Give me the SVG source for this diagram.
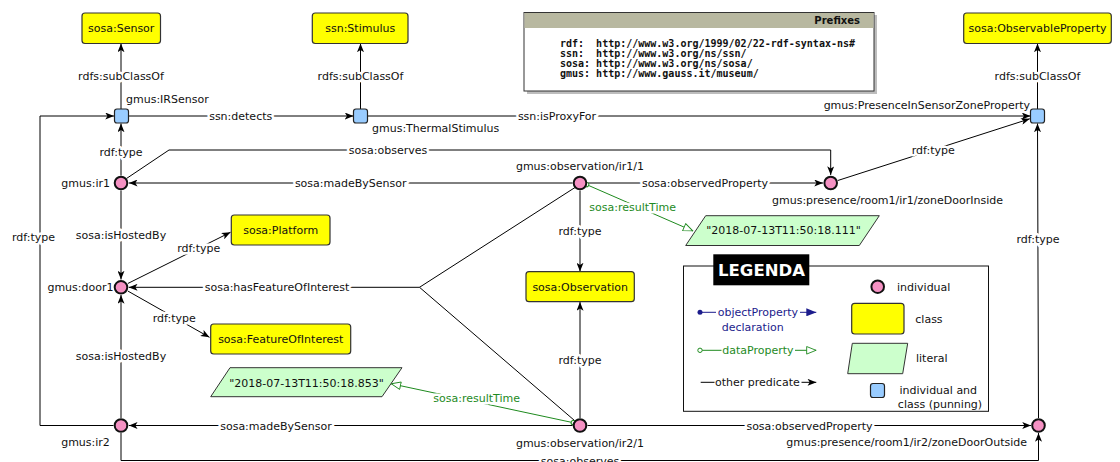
<svg xmlns="http://www.w3.org/2000/svg" width="1120" height="462" viewBox="0 0 1120 462">
  <style>
    text { font-family: "DejaVu Sans", "Liberation Sans", sans-serif; font-size: 11px; fill: #111; }
    .lbl { text-anchor: middle; paint-order: stroke; stroke: #fff; stroke-width: 5px; stroke-linejoin: round; }
    .mid { text-anchor: middle; }
    .end { text-anchor: end; }
    .edge { fill: none; stroke: #000; stroke-width: 1; }
    .data { fill: none; stroke: #1e8a1e; stroke-width: 1; }
    .dlbl { fill: #1e8a1e; }
    .obj { fill: none; stroke: #1c1c8c; stroke-width: 1; }
    .olbl { fill: #1c1c8c; }
    .cls { fill: #ffff00; stroke: #333; stroke-width: 1.2; }
    .ind { fill: #f591c3; stroke: #111; stroke-width: 2; }
    .pun { fill: #99ccff; stroke: #222; stroke-width: 1.2; }
    .lit { fill: #ccffcc; stroke: #333; stroke-width: 1; }
    .mono { font-family: "DejaVu Sans Mono", "Liberation Mono", monospace; font-size: 10px; font-weight: bold; fill: #111; }
  </style>
  <defs>
    <marker id="arr" viewBox="0 0 10 8" refX="10" refY="4" markerWidth="9" markerHeight="7" markerUnits="userSpaceOnUse" orient="auto">
      <path d="M0,0 L10,4 L0,8 L2.5,4 z" fill="#000"/>
    </marker>
    <marker id="openTri" viewBox="0 0 12 10" refX="11.5" refY="5" markerWidth="11" markerHeight="9" markerUnits="userSpaceOnUse" orient="auto">
      <path d="M0.8,0.8 L11.2,5 L0.8,9.2 z" fill="#fff" stroke="#1e8a1e" stroke-width="1"/>
    </marker>
    <marker id="openDot" viewBox="0 0 6 6" refX="3" refY="3" markerWidth="6" markerHeight="6" markerUnits="userSpaceOnUse" orient="auto">
      <circle cx="3" cy="3" r="2.2" fill="#fff" stroke="#1e8a1e" stroke-width="1"/>
    </marker>
    <marker id="navyDot" viewBox="0 0 6 6" refX="3" refY="3" markerWidth="6" markerHeight="6" markerUnits="userSpaceOnUse" orient="auto">
      <circle cx="3" cy="3" r="2.5" fill="#1c1c8c"/>
    </marker>
    <marker id="navyTri" viewBox="0 0 10 8" refX="10" refY="4" markerWidth="10" markerHeight="8" markerUnits="userSpaceOnUse" orient="auto">
      <path d="M0,0 L10,4 L0,8 z" fill="#1c1c8c"/>
    </marker>
  </defs>

  <rect width="1120" height="462" fill="#fff"/>

  <!-- prefix table -->
  <g id="prefixes">
    <rect x="527" y="15" width="350" height="79" fill="#bdbdbd"/>
    <rect x="524" y="12.5" width="350" height="78.5" fill="#fff" stroke="#333" stroke-width="1"/>
    <rect x="524.5" y="13" width="349" height="15" fill="#b8b8a0"/>
    <text x="860" y="23.6" class="end" style="font-weight:bold;font-size:10px">Prefixes</text>
    <text class="mono" x="560" y="46.8" xml:space="preserve">rdf:  http://www.w3.org/1999/02/22-rdf-syntax-ns#</text>
    <text class="mono" x="560" y="57" xml:space="preserve">ssn:  http://www.w3.org/ns/ssn/</text>
    <text class="mono" x="560" y="67.2" xml:space="preserve">sosa: http://www.w3.org/ns/sosa/</text>
    <text class="mono" x="560" y="77.4" xml:space="preserve">gmus: http://www.gauss.it/museum/</text>
  </g>

  <!-- connectors -->
  <g id="connectors">
    <path class="edge" d="M121,109 V43.5" marker-end="url(#arr)"/>
    <text class="lbl" x="121" y="80">rdfs:subClassOf</text>

    <path class="edge" d="M360.5,109 V43.5" marker-end="url(#arr)"/>
    <text class="lbl" x="360.5" y="80">rdfs:subClassOf</text>

    <path class="edge" d="M1037.5,109 V43.5" marker-end="url(#arr)"/>
    <text class="lbl" x="1037.5" y="80">rdfs:subClassOf</text>

    <path class="edge" d="M128.5,116 H353.5" marker-end="url(#arr)"/>
    <text class="lbl" x="240.7" y="120">ssn:detects</text>

    <path class="edge" d="M367.5,116 H1030.5" marker-end="url(#arr)"/>
    <text class="lbl" x="557" y="120">ssn:isProxyFor</text>

    <path class="edge" d="M121,175.5 V123.5" marker-end="url(#arr)"/>
    <text class="lbl" x="121" y="155.5">rdf:type</text>

    <path class="edge" d="M126.5,178.5 L169,150 H830.7 V175" marker-end="url(#arr)"/>
    <text class="lbl" x="388" y="154">sosa:observes</text>

    <path class="edge" d="M572.5,183 H128.8" marker-end="url(#arr)"/>
    <text class="lbl" x="350.7" y="187">sosa:madeBySensor</text>

    <path class="edge" d="M587.5,183 H823" marker-end="url(#arr)"/>
    <text class="lbl" x="705" y="187">sosa:observedProperty</text>

    <path class="edge" d="M837.8,180.5 L1029.8,118.8" marker-end="url(#arr)"/>
    <text class="lbl" x="933.3" y="154">rdf:type</text>

    <path class="edge" d="M580,190.5 V271.5" marker-end="url(#arr)"/>
    <text class="lbl" x="580" y="235">rdf:type</text>

    <path class="data" d="M586.6,184.6 L693,231" marker-start="url(#openDot)" marker-end="url(#openTri)"/>
    <text class="lbl dlbl" x="632.7" y="211">sosa:resultTime</text>

    <path class="edge" d="M575,187.5 L419.5,287.3 H128.8" marker-end="url(#arr)"/>
    <path class="edge" d="M574.5,420.5 L419.5,287.3"/>
    <text class="lbl" x="277" y="291">sosa:hasFeatureOfInterest</text>

    <path class="edge" d="M580,418 V302" marker-end="url(#arr)"/>
    <text class="lbl" x="580" y="364">rdf:type</text>

    <path class="data" d="M573.3,422.7 L391,383.7" marker-start="url(#openDot)" marker-end="url(#openTri)"/>
    <text class="lbl dlbl" x="476.7" y="402">sosa:resultTime</text>

    <path class="edge" d="M572.5,425.5 H128.8" marker-end="url(#arr)"/>
    <text class="lbl" x="276" y="430">sosa:madeBySensor</text>

    <path class="edge" d="M587.5,425.5 H1031" marker-end="url(#arr)"/>
    <text class="lbl" x="809.5" y="430">sosa:observedProperty</text>

    <path class="edge" d="M121,433 V460.5 H1038.5 V433" marker-end="url(#arr)"/>
    <text class="lbl" x="580" y="464.5">sosa:observes</text>

    <path class="edge" d="M1038.5,418 L1037.5,123.5" marker-end="url(#arr)"/>
    <text class="lbl" x="1038" y="243">rdf:type</text>

    <path class="edge" d="M121,190.5 V279.5" marker-end="url(#arr)"/>
    <text class="lbl" x="121" y="239">sosa:isHostedBy</text>

    <path class="edge" d="M121,418 V295" marker-end="url(#arr)"/>
    <text class="lbl" x="121" y="360">sosa:isHostedBy</text>

    <path class="edge" d="M127.8,283.5 L230.5,232.3" marker-end="url(#arr)"/>
    <text class="lbl" x="198.7" y="251.5">rdf:type</text>

    <path class="edge" d="M127.8,291 L209.5,337.3" marker-end="url(#arr)"/>
    <text class="lbl" x="174.3" y="321.5">rdf:type</text>

    <path class="edge" d="M113.5,425.5 H40 V116 H114" marker-end="url(#arr)"/>
    <text class="lbl" x="33.5" y="241">rdf:type</text>
  </g>

  <!-- classes -->
  <g id="sosa-Sensor">
    <rect class="cls" x="82" y="13" width="78.5" height="30.5" rx="3"/>
    <text class="mid" x="121.2" y="32">sosa:Sensor</text>
  </g>
  <g id="ssn-Stimulus">
    <rect class="cls" x="312.3" y="13" width="95.7" height="30.5" rx="3"/>
    <text class="mid" x="360.2" y="32">ssn:Stimulus</text>
  </g>
  <g id="sosa-ObservableProperty">
    <rect class="cls" x="963.7" y="13" width="147.6" height="30.5" rx="3"/>
    <text class="mid" x="1037.5" y="32">sosa:ObservableProperty</text>
  </g>
  <g id="sosa-Platform">
    <rect class="cls" x="231.3" y="215" width="98.7" height="30" rx="3"/>
    <text class="mid" x="280.7" y="234">sosa:Platform</text>
  </g>
  <g id="sosa-FeatureOfInterest">
    <rect class="cls" x="210.7" y="324" width="140" height="30" rx="3"/>
    <text class="mid" x="280.7" y="343">sosa:FeatureOfInterest</text>
  </g>
  <g id="sosa-Observation">
    <rect class="cls" x="526" y="271.7" width="108.3" height="30" rx="3"/>
    <text class="mid" x="580.2" y="290.7">sosa:Observation</text>
  </g>

  <!-- punned individuals/classes -->
  <g id="gmus-IRSensor">
    <rect class="pun" x="114.5" y="109" width="14" height="14" rx="2.5"/>
    <text x="126" y="103">gmus:IRSensor</text>
  </g>
  <g id="gmus-ThermalStimulus">
    <rect class="pun" x="353.5" y="109" width="14" height="14" rx="2.5"/>
    <text x="372" y="132">gmus:ThermalStimulus</text>
  </g>
  <g id="gmus-PresenceInSensorZoneProperty">
    <rect class="pun" x="1030.5" y="109" width="14" height="14" rx="2.5"/>
    <text class="end" x="1030" y="109">gmus:PresenceInSensorZoneProperty</text>
  </g>

  <!-- individuals -->
  <g id="gmus-ir1">
    <circle class="ind" cx="121" cy="183" r="6.3"/>
    <text class="end" x="110" y="187">gmus:ir1</text>
  </g>
  <g id="gmus-observation-ir1-1">
    <circle class="ind" cx="580" cy="183" r="6.3"/>
    <text class="mid" x="580" y="169.5">gmus:observation/ir1/1</text>
  </g>
  <g id="gmus-presence-room1-ir1-zoneDoorInside">
    <circle class="ind" cx="830.7" cy="183" r="6.3"/>
    <text x="772" y="204">gmus:presence/room1/ir1/zoneDoorInside</text>
  </g>
  <g id="gmus-door1">
    <circle class="ind" cx="121" cy="287.3" r="6.3"/>
    <text class="end" x="113.5" y="291">gmus:door1</text>
  </g>
  <g id="gmus-ir2">
    <circle class="ind" cx="121" cy="425.5" r="6.3"/>
    <text class="mid" x="85.5" y="446">gmus:ir2</text>
  </g>
  <g id="gmus-observation-ir2-1">
    <circle class="ind" cx="580" cy="425.5" r="6.3"/>
    <text class="mid" x="580" y="447">gmus:observation/ir2/1</text>
  </g>
  <g id="gmus-presence-room1-ir2-zoneDoorOutside">
    <circle class="ind" cx="1038.5" cy="425.5" r="6.3"/>
    <text class="end" x="1027" y="446">gmus:presence/room1/ir2/zoneDoorOutside</text>
  </g>

  <!-- literals -->
  <g id="literal-111">
    <polygon class="lit" points="705.7,215.7 879.3,215.7 859.3,245.5 685.7,245.5"/>
    <text class="mid" x="783.5" y="234.3">"2018-07-13T11:50:18.111"</text>
  </g>
  <g id="literal-853">
    <polygon class="lit" points="230,367.7 402,367.7 382,396.7 210.7,396.7"/>
    <text class="mid" x="306.5" y="387">"2018-07-13T11:50:18.853"</text>
  </g>

  <!-- key -->
  <g id="legend">
    <rect x="683.5" y="266" width="305" height="145.3" fill="#fff" stroke="#111" stroke-width="1"/>
    <rect x="713.3" y="254.3" width="96" height="31" fill="#000"/>
    <text class="mid" x="761.5" y="276" style="fill:#fff;font-weight:bold;font-size:16.5px">LEGENDA</text>

    <path class="obj" d="M700,312.3 H716" marker-start="url(#navyDot)"/>
    <text class="olbl" x="717.7" y="316.3">objectProperty</text>
    <path class="obj" d="M800,312.3 H816.3" marker-end="url(#navyTri)"/>
    <text class="olbl mid" x="752.7" y="331.3">declaration</text>

    <path class="data" d="M700,350.3 H721.5" marker-start="url(#openDot)"/>
    <text class="dlbl" x="722.3" y="354.3">dataProperty</text>
    <path class="data" d="M795,350.3 H816.3" marker-end="url(#openTri)"/>

    <path class="edge" d="M700.7,382.3 H714.5"/>
    <text x="715" y="386.3">other predicate</text>
    <path class="edge" d="M801.5,382.3 H816.3" marker-end="url(#arr)"/>

    <circle class="ind" cx="877.7" cy="286.7" r="6.3"/>
    <text x="897" y="290.7">individual</text>
    <rect class="cls" x="851.7" y="303.3" width="52.3" height="30.7" rx="3"/>
    <text x="915.3" y="322.7">class</text>
    <polygon class="lit" points="852.3,343.3 907.7,343.3 902.7,373.7 847.7,373.7"/>
    <text x="916" y="362.3">literal</text>
    <rect class="pun" x="870.5" y="383.5" width="14" height="14" rx="2.5"/>
    <text class="mid" x="938.3" y="394.3">individual and</text>
    <text class="mid" x="940" y="407.7">class (punning)</text>
  </g>
</svg>
